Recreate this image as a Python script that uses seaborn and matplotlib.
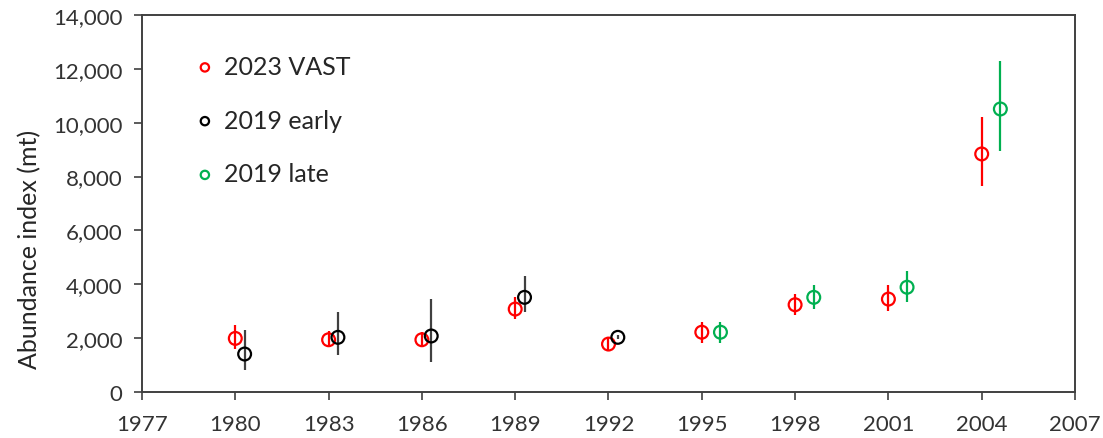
import matplotlib
matplotlib.use("Agg")
import matplotlib.pyplot as plt
from matplotlib.ticker import FuncFormatter
import seaborn as sns
import pandas as pd

# Abundance index estimates (mt) with interval bounds, by survey year
vast_years = [1980, 1983, 1986, 1989, 1992, 1995, 1998, 2001, 2004]
vast_index = [1990, 1940, 1940, 3080, 1780, 2220, 3240, 3450, 8840]
vast_low = [1600, 1700, 1660, 2710, 1540, 1820, 2860, 3020, 7660]
vast_high = [2490, 2250, 2220, 3540, 2030, 2610, 3640, 3970, 10220]

early_years = [1980, 1983, 1986, 1989, 1992]
early_index = [1410, 2030, 2080, 3515, 2030]
early_low = [820, 1370, 1120, 2960, 1950]
early_high = [2300, 2980, 3450, 4320, 2100]

late_years = [1995, 1998, 2001, 2004]
late_index = [2220, 3515, 3890, 10510]
late_low = [1820, 3080, 3330, 8940]
late_high = [2610, 3970, 4500, 12300]

series_names = ["2023 VAST", "2019 early", "2019 late"]
x_ticks = list(range(1977, 2008, 3))
y_ticks = list(range(0, 14001, 2000))

frames = []
for name, yrs, idx, lo, hi in [
    (series_names[0], vast_years, vast_index, vast_low, vast_high),
    (series_names[1], early_years, early_index, early_low, early_high),
    (series_names[2], late_years, late_index, late_low, late_high),
]:
    frames.append(pd.DataFrame({"series": name, "year": yrs, "index": idx,
                                "low": lo, "high": hi}))
df = pd.concat(frames, ignore_index=True)

# style: colour and horizontal dodge per series
colors = {"2023 VAST": "#FF0000", "2019 early": "#000000", "2019 late": "#00B050"}
bar_colors = {"2023 VAST": "#FF0000", "2019 early": "#404040", "2019 late": "#00B050"}
dodge = {"2023 VAST": 0.0, "2019 early": 0.3, "2019 late": 0.6}
df["xpos"] = df["year"] + df["series"].map(dodge)

sns.set_theme(style="ticks")
plt.rcParams["font.family"] = ["Lato", "DejaVu Sans"]

fig = plt.figure(figsize=(11.03, 4.39), dpi=100)
ax = fig.add_axes([142 / 1103, 1 - 393 / 439, 933 / 1103, 377 / 439])

for name in series_names:
    sub = df[df["series"] == name]
    ax.vlines(sub["xpos"], sub["low"], sub["high"], color=bar_colors[name],
              linewidth=1.6, zorder=2)
    sns.scatterplot(data=sub, x="xpos", y="index", ax=ax, marker="o", s=85,
                    facecolor="none", edgecolor=colors[name], color=colors[name],
                    linewidth=1.6, label=name, zorder=3)

ax.set_xlim(1977, 2007)
ax.set_ylim(0, 14000)
ax.set_xticks(x_ticks)
ax.set_yticks(y_ticks)
ax.yaxis.set_major_formatter(FuncFormatter(lambda v, p: f"{int(v):,}"))
ax.set_xlabel("")
ax.set_ylabel("Abundance index (mt)", fontsize=18, color="#262626")
ax.yaxis.set_label_coords(-0.108, 0.38)

for side in ["left", "right", "top", "bottom"]:
    ax.spines[side].set_visible(True)
    ax.spines[side].set_color("#404040")
    ax.spines[side].set_linewidth(1.4)
ax.tick_params(axis="both", direction="out", length=6, width=1.2,
               color="#404040", labelsize=16, labelcolor="#333333")
ax.tick_params(axis="y", pad=8)
ax.tick_params(axis="x", pad=10)

leg = ax.legend(loc="upper left", bbox_to_anchor=(0.054, 0.894), frameon=False,
                fontsize=18, labelspacing=1.23, handlelength=1.0,
                handletextpad=0.25, borderpad=0, borderaxespad=0,
                markerscale=0.65)
for t in leg.get_texts():
    t.set_color("#262626")

fig.savefig("out.png", dpi=100, facecolor="white")
